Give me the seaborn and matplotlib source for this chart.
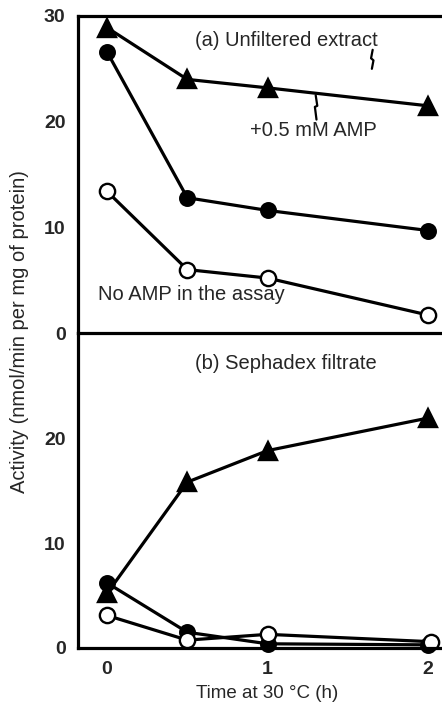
import matplotlib
matplotlib.use("Agg")
import matplotlib.pyplot as plt
import seaborn as sns
import pandas as pd

sns.set_style("white")
plt.rcParams['font.family'] = ['Liberation Sans', 'DejaVu Sans']

# Data
time_h = [0, 0.5, 1, 2]
a_amp_tri = [28.9, 24.0, 23.2, 21.5]
a_filled = [26.6, 12.8, 11.6, 9.7]
a_open = [13.4, 6.0, 5.2, 1.7]

b_time_open = [0, 0.5, 1, 2.02]
b_amp_tri = [5.2, 15.8, 18.8, 21.9]
b_filled = [6.2, 1.5, 0.4, 0.3]
b_open = [3.1, 0.75, 1.3, 0.6]

y_ticks = [0, 10, 20, 30]
x_ticks = [0, 1, 2]

W, H = 442, 702
fig = plt.figure(figsize=(W / 100, H / 100), dpi=100)
left = 78 / W
ax_top = fig.add_axes([left, 1 - 333 / H, 1 - left, (333 - 16) / H])
ax_bot = fig.add_axes([left, 1 - 648 / H, 1 - left, (648 - 333) / H])

LW = 2.3
def series(ax, x, y, kind):
    kw = dict(color='black', linewidth=LW, ax=ax, legend=False, clip_on=False,
              markeredgecolor='black', markeredgewidth=1.7)
    if kind == 'tri':
        sns.lineplot(x=x, y=y, marker='^', markersize=12.5, markerfacecolor='black', **kw)
    elif kind == 'filled':
        sns.lineplot(x=x, y=y, marker='o', markersize=10.5, markerfacecolor='black', **kw)
    else:
        sns.lineplot(x=x, y=y, marker='o', markersize=11, markerfacecolor='white', **kw)

series(ax_top, time_h, a_amp_tri, 'tri')
series(ax_top, time_h, a_filled, 'filled')
series(ax_top, time_h, a_open, 'open')

series(ax_bot, time_h, b_amp_tri, 'tri')
series(ax_bot, time_h, b_filled, 'filled')
series(ax_bot, b_time_open, b_open, 'open')

xlim = (-0.181, 2.087)
for ax in (ax_top, ax_bot):
    ax.set_xlim(*xlim)
    ax.set_ylim(0, 30)
    ax.set_xticks(x_ticks)
    ax.set_xlabel('')
    ax.set_ylabel('')
    ax.spines['right'].set_visible(False)
    for s in ('left', 'bottom', 'top'):
        ax.spines[s].set_linewidth(LW)
        ax.spines[s].set_color('black')
    ax.tick_params(axis='both', direction='out', length=5.5, width=2, color='black',
                   labelsize=14, pad=3.5)
    ax.set_facecolor('none')

ax_top.set_yticks(y_ticks)
ax_top.tick_params(axis='x', labelbottom=False)
ax_bot.set_yticks([0, 10, 20])
ax_bot.spines['top'].set_visible(False)
for lab in ax_bot.get_yticklabels() + ax_bot.get_xticklabels() + ax_top.get_yticklabels():
    lab.set_fontweight('bold')

tfs = 14.5
ax_top.text(0.55, 27.7, '(a) Unfiltered extract', fontsize=tfs, va='center', ha='left')
ax_top.text(0.89, 19.2, '+0.5 mM AMP', fontsize=tfs, va='center', ha='left')
ax_top.text(-0.056, 3.6, 'No AMP in the assay', fontsize=tfs, va='center', ha='left')
ax_bot.text(0.55, 27.1, '(b) Sephadex filtrate', fontsize=tfs, va='center', ha='left')

# little zigzag leader marks
ax_top.plot([1.655, 1.645, 1.66, 1.65], [26.8, 26.0, 25.8, 25.0], color='black', lw=1.6)
ax_top.plot([1.30, 1.31, 1.295, 1.305], [22.5, 21.5, 21.4, 20.2], color='black', lw=1.6)

fig.text(0.045, 1 - 332 / H, 'Activity (nmol/min per mg of protein)', rotation=90,
         ha='center', va='center', fontsize=14.5)
fig.text((107 + 160.5) / W, 1 - 693 / H, 'Time at 30 \u00b0C (h)', ha='center', va='center',
         fontsize=13.5)

fig.savefig('out.png', dpi=100)
